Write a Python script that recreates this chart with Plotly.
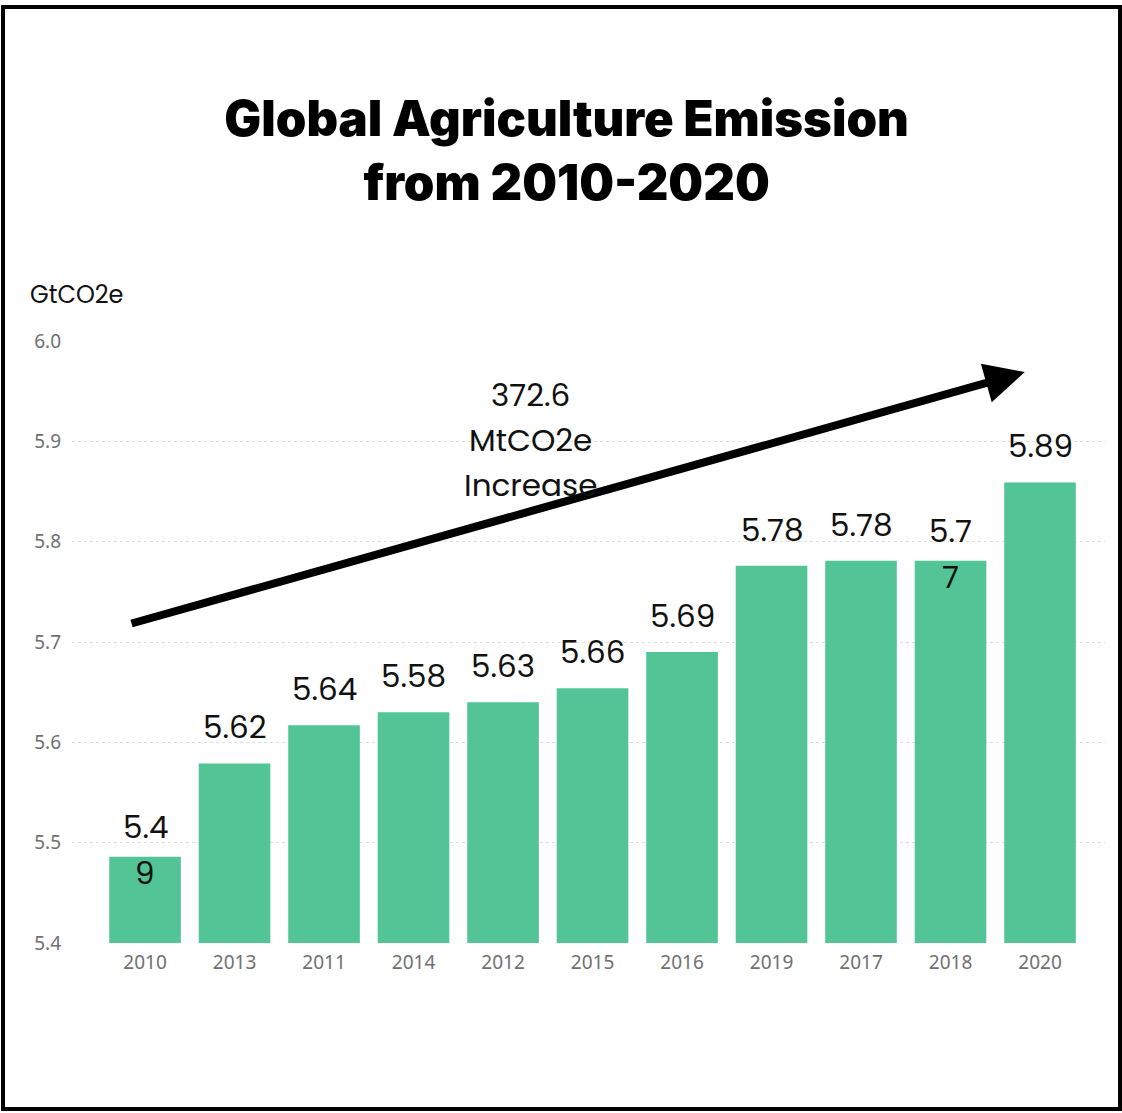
import plotly.graph_objects as go

years = ["2010", "2013", "2011", "2014", "2012", "2015", "2016", "2019", "2017", "2018", "2020"]
bar_heights = [5.486, 5.579, 5.617, 5.630, 5.640, 5.654, 5.690, 5.776, 5.781, 5.781, 5.859]
bar_labels = ["5.4<br>9", "5.62", "5.64", "5.58", "5.63", "5.66", "5.69", "5.78", "5.78", "5.7<br>7", "5.89"]
y_ticks = [5.4, 5.5, 5.6, 5.7, 5.8, 5.9, 6.0]
increase_lines = ["372.6", "MtCO2e", "Increase"]
title_text = "Global Agriculture Emission<br>from 2010-2020"
unit_text = "GtCO2e"

W, H = 1122, 1113
L, R, T, B = 72, 17, 341, 170
pw, ph = W - L - R, H - T - B

fig = go.Figure()
fig.add_trace(go.Bar(
    x=list(range(len(years))), y=bar_heights,
    marker=dict(color="#52C496", line=dict(width=0)),
    width=0.8, hoverinfo="skip",
))

annotations = []
lab_font = dict(family="Poppins, Inter, Noto Sans, sans-serif", size=31, color="#111")
for i, (h, lab) in enumerate(zip(bar_heights, bar_labels)):
    parts = lab.split("<br>")
    if len(parts) > 1:
        shifts = [30, -16]
    else:
        shifts = [36]
    for p, s in zip(parts, shifts):
        annotations.append(dict(x=i, y=h, xref="x", yref="y", text=p, showarrow=False,
                                yanchor="middle", yshift=s, font=lab_font))

# trend arrow
annotations.append(dict(x=9.83, y=5.969, xref="x", yref="y",
                        ax=-0.168, ay=5.718, axref="x", ayref="y",
                        text="", showarrow=True, arrowhead=2, arrowsize=1.0,
                        arrowwidth=8, arrowcolor="#000", standoff=0))
for k, line in enumerate(increase_lines):
    annotations.append(dict(x=4.31, y=5.9015, xref="x", yref="y", text=line,
                            showarrow=False, font=lab_font, yanchor="middle",
                            yshift=-(k - 1) * 45))
annotations.append(dict(x=(28 - L) / pw, y=(H - B - 294) / ph, xref="paper", yref="paper",
                        text=unit_text, showarrow=False, xanchor="left", yanchor="middle",
                        font=dict(family="Poppins, Inter, Noto Sans, sans-serif", size=24, color="#111")))

fig.update_layout(
    width=W, height=H,
    margin=dict(l=L, r=R, t=T, b=B),
    paper_bgcolor="white", plot_bgcolor="white",
    showlegend=False,
    title=dict(text=title_text, x=0.505, xref="container", xanchor="center",
               y=1 - 136 / H, yref="container", yanchor="middle",
               font=dict(family="Inter, sans-serif", size=49, color="#000", weight=900)),
    annotations=annotations,
)
fig.update_xaxes(
    tickmode="array", tickvals=list(range(len(years))), ticktext=years,
    range=[-0.816, 10.726], showgrid=False, zeroline=False, showline=False,
    tickfont=dict(family="Noto Sans, Open Sans, sans-serif", size=19, color="#707070"),
    ticks="", ticklabelstandoff=6,
)
fig.update_yaxes(
    range=[5.4, 6.0], tickmode="array", tickvals=y_ticks,
    ticktext=[f"{v:.1f}" for v in y_ticks],
    showgrid=True, gridcolor="#dddddd", griddash="dot", gridwidth=1,
    zeroline=False, showline=False, ticks="", ticklabelstandoff=10,
    tickfont=dict(family="Noto Sans, Open Sans, sans-serif", size=19, color="#707070"),
)
fig.add_shape(type="rect", xref="paper", yref="paper",
              x0=(3 - L) / pw, x1=(1120 - L) / pw,
              y0=(H - B - 1109) / ph, y1=(H - B - 7) / ph,
              line=dict(color="#000", width=4), fillcolor="rgba(0,0,0,0)", layer="above")

fig.write_html("out.html", config={"displayModeBar": False},
               post_script="document.body.style.margin='0';")
